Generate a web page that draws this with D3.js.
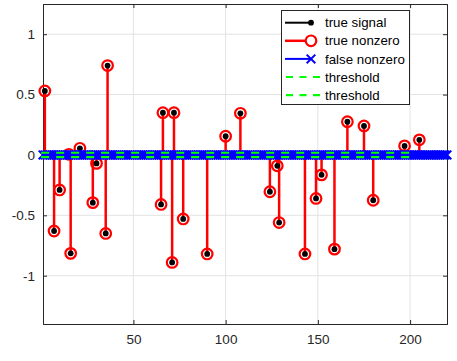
<!DOCTYPE html>
<html>
<head>
<meta charset="utf-8">
<script src="https://cdn.jsdelivr.net/npm/d3@7"></script>
<style>
  body { margin: 0; background: #fff; }
  svg { display: block; font-family: "Liberation Sans", Arial, sans-serif; }
</style>
</head>
<body>
<svg id="chart" width="457" height="361"></svg>
<script>
// support of the true signal (sample index, value)
const trueIdx = [2, 7, 10, 15, 16, 21, 28, 30, 35, 36, 65, 66, 71, 72, 77, 90, 100, 108,
                 124, 128, 129, 143, 149, 152, 159, 166, 175, 180, 197, 205]
const trueVal = [0.53, -0.63, -0.29, 0.005, -0.815, 0.055, -0.395, -0.07, -0.65, 0.74,
                 -0.41, 0.35, -0.89, 0.35, -0.53, -0.82, 0.155, 0.345,
                 -0.305, -0.09, -0.56, -0.82, -0.36, -0.165, -0.78, 0.275, 0.24, -0.375, 0.075, 0.125]

// every sample of the grid shows up as a (zero) false nonzero
const nSamples = 220
const falseIdx = d3.range(1, nSamples + 1)
const threshold = 0.018
const thresholdSpan = [0, 200]

const xTicks = [50, 100, 150, 200]
const yTicks = [-1, -0.5, 0, 0.5, 1]
const legendLabels = ["true signal", "true nonzero", "false nonzero", "threshold", "threshold"]

const svg = d3.select("#chart")
const pLeft = 43, pRight = 447, pTop = 4, pBottom = 324
const axisColor = "#262626"

const x = d3.scaleLinear().domain([1, nSamples]).range([pLeft, pRight])
const y = d3.scaleLinear().domain([-1.4, 1.25]).range([pBottom, pTop])

// grid
const grid = svg.append("g").attr("stroke", "#e3e3e3").attr("stroke-width", 1)
grid.selectAll(".gx").data(xTicks).enter().append("line")
    .attr("x1", d => x(d)).attr("x2", d => x(d))
    .attr("y1", pTop).attr("y2", pBottom)
grid.selectAll(".gy").data(yTicks).enter().append("line")
    .attr("x1", pLeft).attr("x2", pRight)
    .attr("y1", d => y(d)).attr("y2", d => y(d))

// axes
const xAxis = d3.axisBottom(x).tickValues(xTicks).tickSize(-4).tickPadding(10)
const yAxis = d3.axisLeft(y).tickValues(yTicks).tickSize(-4).tickPadding(8)
    .tickFormat(d => d === 0 ? "0" : String(d))

const gx = svg.append("g").attr("transform", `translate(0,${pBottom})`).call(xAxis)
const gy = svg.append("g").attr("transform", `translate(${pLeft},0)`).call(yAxis)
const gxTop = svg.append("g").attr("transform", `translate(0,${pTop})`)
    .call(d3.axisTop(x).tickValues(xTicks).tickSize(-4).tickFormat(""))
const gyRight = svg.append("g").attr("transform", `translate(${pRight},0)`)
    .call(d3.axisRight(y).tickValues(yTicks).tickSize(-4).tickFormat(""))

for (const g of [gx, gy, gxTop, gyRight]) {
    g.select(".domain").attr("stroke", axisColor).attr("stroke-width", 1)
    g.selectAll(".tick line").attr("stroke", axisColor)
    g.selectAll("text").attr("fill", axisColor).attr("font-size", 13.5)
        .attr("font-family", "Liberation Sans, Arial, sans-serif")
}

const support = trueIdx.map((d, i) => ({ i: d, v: trueVal[i] }))

// true nonzero stems (red)
const plot = svg.append("g")
plot.selectAll(".stem").data(support).enter().append("line")
    .attr("x1", d => x(d.i)).attr("x2", d => x(d.i))
    .attr("y1", y(0)).attr("y2", d => y(d.v))
    .attr("stroke", "#ff0000").attr("stroke-width", 2.5)
plot.selectAll(".ring").data(support).enter().append("circle")
    .attr("cx", d => x(d.i)).attr("cy", d => y(d.v)).attr("r", 5.3)
    .attr("fill", "none").attr("stroke", "#ff0000").attr("stroke-width", 2.2)
plot.selectAll(".dot").data(support).enter().append("circle")
    .attr("cx", d => x(d.i)).attr("cy", d => y(d.v)).attr("r", 2.9)
    .attr("fill", "#000")

// false nonzero (blue) baseline and x markers
const xMark = (cx, cy, s) => `M${cx - s},${cy - s}L${cx + s},${cy + s}M${cx - s},${cy + s}L${cx + s},${cy - s}`
plot.append("line")
    .attr("x1", x(1)).attr("x2", x(nSamples))
    .attr("y1", y(0)).attr("y2", y(0))
    .attr("stroke", "#0000ff").attr("stroke-width", 2)
plot.selectAll(".fx").data(falseIdx).enter().append("path")
    .attr("d", d => xMark(x(d), y(0), 4.3))
    .attr("stroke", "#0000ff").attr("stroke-width", 2).attr("fill", "none")

// thresholds (green dashed)
plot.selectAll(".thr").data([threshold, -threshold]).enter().append("line")
    .attr("x1", x(thresholdSpan[0])).attr("x2", x(thresholdSpan[1]))
    .attr("y1", d => y(d)).attr("y2", d => y(d))
    .attr("stroke", "#00ff00").attr("stroke-width", 2.2)
    .attr("stroke-dasharray", "8,7")

// legend
const lg = svg.append("g")
lg.append("rect").attr("x", 281.5).attr("y", 10.5).attr("width", 128).attr("height", 94)
    .attr("fill", "#fff").attr("stroke", axisColor).attr("stroke-width", 1)
const rowY = i => 22.7 + i * 18.1
const lx0 = 285, lx1 = 311
legendLabels.forEach((label, i) => {
    const yy = rowY(i)
    if (i === 0) {
        lg.append("line").attr("x1", lx0).attr("x2", lx1).attr("y1", yy).attr("y2", yy)
            .attr("stroke", "#000").attr("stroke-width", 2)
        lg.append("circle").attr("cx", lx1).attr("cy", yy).attr("r", 2.9).attr("fill", "#000")
    } else if (i === 1) {
        lg.append("line").attr("x1", lx0).attr("x2", lx1 - 5).attr("y1", yy).attr("y2", yy)
            .attr("stroke", "#ff0000").attr("stroke-width", 2.5)
        lg.append("circle").attr("cx", lx1).attr("cy", yy).attr("r", 5.3)
            .attr("fill", "none").attr("stroke", "#ff0000").attr("stroke-width", 2.2)
    } else if (i === 2) {
        lg.append("line").attr("x1", lx0).attr("x2", lx1).attr("y1", yy).attr("y2", yy)
            .attr("stroke", "#0000ff").attr("stroke-width", 2)
        lg.append("path").attr("d", xMark(lx1, yy, 4.3))
            .attr("stroke", "#0000ff").attr("stroke-width", 2).attr("fill", "none")
    } else {
        lg.append("line").attr("x1", lx0 + 1).attr("x2", 322).attr("y1", yy).attr("y2", yy)
            .attr("stroke", "#00ff00").attr("stroke-width", 2.2)
            .attr("stroke-dasharray", "7,6.5")
    }
    lg.append("text").attr("x", 325).attr("y", yy).attr("dy", "0.35em")
        .attr("font-size", 13.3).attr("fill", "#000").text(label)
})
</script>
</body>
</html>
